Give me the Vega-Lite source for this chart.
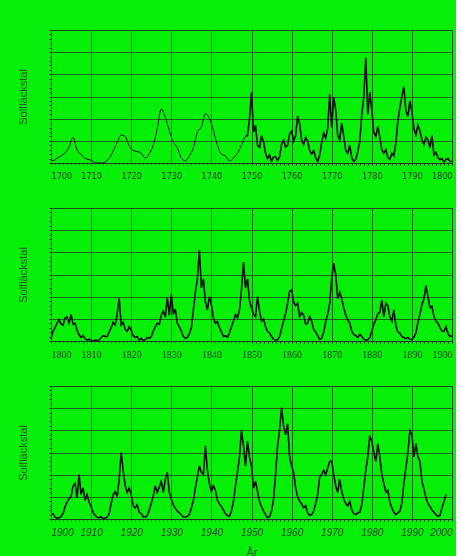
{
"$schema": "https://vega.github.io/schema/vega-lite/v6.json",
"background": "#06ef06",
"padding": {"left": 17, "top": 29, "right": 0, "bottom": 0},
"spacing": 45,
"bounds": "flush",
"config": {
"view": {"stroke": "#1a3f1a", "strokeWidth": 1},
"axis": {"gridColor": "#1d4d1d", "domainColor": "#1a3f1a", "tickColor": "#1a3f1a", "labelColor": "#2a4a2a", "titleColor": "#2f5a2f", "labelFont": "Liberation Sans", "titleFont": "Liberation Sans", "titleFontWeight": "normal", "titleFontSize": 11, "labelFontSize": 9, "tickSize": 2, "labelPadding": 6}
},
"datasets": {"sun": [
{"t":1700,"v":8},{"t":1700.5,"v":5},{"t":1701.5,"v":11},{"t":1702.5,"v":16},{"t":1703.5,"v":23},{"t":1704.5,"v":36},{"t":1705.5,"v":58},{"t":1706.5,"v":29},{"t":1707.5,"v":20},{"t":1708.5,"v":10},{"t":1709.5,"v":8},{"t":1710.5,"v":3},{"t":1711.5,"v":0},{"t":1712.5,"v":0},{"t":1713.5,"v":2},{"t":1714.5,"v":11},{"t":1715.5,"v":27},{"t":1716.5,"v":47},{"t":1717.5,"v":63},{"t":1718.5,"v":60},{"t":1719.5,"v":39},{"t":1720.5,"v":28},{"t":1721.5,"v":26},{"t":1722.5,"v":22},{"t":1723.5,"v":11},{"t":1724.5,"v":21},{"t":1725.5,"v":40},{"t":1726.5,"v":78},{"t":1727.5,"v":122},{"t":1728.5,"v":103},{"t":1729.5,"v":73},{"t":1730.5,"v":47},{"t":1731.5,"v":35},{"t":1732.5,"v":11},{"t":1733.5,"v":5},{"t":1734.5,"v":16},{"t":1735.5,"v":34},{"t":1736.5,"v":70},{"t":1737.5,"v":81},{"t":1738.5,"v":111},{"t":1739.5,"v":101},{"t":1740.5,"v":73},{"t":1741.5,"v":40},{"t":1742.5,"v":20},{"t":1743.5,"v":16},{"t":1744.5,"v":5},{"t":1745.5,"v":11},{"t":1746.5,"v":22},{"t":1747.5,"v":40},{"t":1748.5,"v":60},
{"t":1749,"v":62},{"t":1749.5,"v":100},{"t":1750,"v":160},{"t":1750.5,"v":70},{"t":1751,"v":85},{"t":1751.5,"v":40},{"t":1752,"v":35},{"t":1752.5,"v":62},{"t":1753,"v":48},{"t":1753.5,"v":22},{"t":1754,"v":10},{"t":1754.5,"v":18},{"t":1755,"v":4},{"t":1755.5,"v":14},{"t":1756,"v":14},{"t":1756.5,"v":6},{"t":1757,"v":14},{"t":1757.5,"v":42},{"t":1758,"v":52},{"t":1758.5,"v":36},{"t":1759,"v":40},{"t":1759.5,"v":66},{"t":1760,"v":72},{"t":1760.5,"v":50},{"t":1761,"v":62},{"t":1761.5,"v":106},{"t":1762,"v":88},{"t":1762.5,"v":52},{"t":1763,"v":42},{"t":1763.5,"v":58},{"t":1764,"v":50},{"t":1764.5,"v":28},{"t":1765,"v":20},{"t":1765.5,"v":28},{"t":1766,"v":12},{"t":1766.5,"v":3},{"t":1767,"v":18},{"t":1767.5,"v":46},{"t":1768,"v":68},{"t":1768.5,"v":56},{"t":1769,"v":78},{"t":1769.5,"v":155},{"t":1770,"v":80},{"t":1770.5,"v":148},{"t":1771,"v":120},{"t":1771.5,"v":62},{"t":1772,"v":52},{"t":1772.5,"v":90},{"t":1773,"v":60},{"t":1773.5,"v":28},{"t":1774,"v":22},{"t":1774.5,"v":40},{"t":1775,"v":12},{"t":1775.5,"v":3},{"t":1776,"v":8},{"t":1776.5,"v":26},{"t":1777,"v":48},{"t":1777.5,"v":110},{"t":1778,"v":150},{"t":1778.5,"v":238},{"t":1779,"v":110},{"t":1779.5,"v":160},{"t":1780,"v":120},{"t":1780.5,"v":70},{"t":1781,"v":60},{"t":1781.5,"v":82},{"t":1782,"v":58},{"t":1782.5,"v":30},{"t":1783,"v":22},{"t":1783.5,"v":30},{"t":1784,"v":12},{"t":1784.5,"v":8},{"t":1785,"v":22},{"t":1785.5,"v":16},{"t":1786,"v":45},{"t":1786.5,"v":95},{"t":1787,"v":125},{"t":1787.5,"v":150},{"t":1788,"v":172},{"t":1788.5,"v":118},{"t":1789,"v":105},{"t":1789.5,"v":140},{"t":1790,"v":115},{"t":1790.5,"v":78},{"t":1791,"v":64},{"t":1791.5,"v":85},{"t":1792,"v":72},{"t":1792.5,"v":52},{"t":1793,"v":42},{"t":1793.5,"v":58},{"t":1794,"v":52},{"t":1794.5,"v":34},{"t":1795,"v":62},{"t":1795.5,"v":18},{"t":1796,"v":24},{"t":1796.5,"v":12},{"t":1797,"v":8},{"t":1797.5,"v":10},{"t":1798,"v":2},{"t":1798.5,"v":8},{"t":1799,"v":10},{"t":1799.5,"v":3},
{"t":1800,"v":4},{"t":1800.5,"v":22},{"t":1801,"v":30},{"t":1801.5,"v":40},{"t":1802,"v":48},{"t":1802.5,"v":38},{"t":1803,"v":36},{"t":1803.5,"v":52},{"t":1804,"v":54},{"t":1804.5,"v":40},{"t":1805,"v":60},{"t":1805.5,"v":38},{"t":1806,"v":40},{"t":1806.5,"v":24},{"t":1807,"v":14},{"t":1807.5,"v":8},{"t":1808,"v":12},{"t":1808.5,"v":5},{"t":1809,"v":2},{"t":1809.5,"v":4},{"t":1810,"v":0},{"t":1810.5,"v":0},{"t":1811,"v":2},{"t":1811.5,"v":1},{"t":1812,"v":2},{"t":1812.5,"v":8},{"t":1813,"v":12},{"t":1813.5,"v":10},{"t":1814,"v":10},{"t":1814.5,"v":20},{"t":1815,"v":30},{"t":1815.5,"v":42},{"t":1816,"v":36},{"t":1816.5,"v":60},{"t":1817,"v":97},{"t":1817.5,"v":36},{"t":1818,"v":42},{"t":1818.5,"v":26},{"t":1819,"v":22},{"t":1819.5,"v":32},{"t":1820,"v":24},{"t":1820.5,"v":12},{"t":1821,"v":8},{"t":1821.5,"v":10},{"t":1822,"v":2},{"t":1822.5,"v":6},{"t":1823,"v":1},{"t":1823.5,"v":3},{"t":1824,"v":8},{"t":1824.5,"v":6},{"t":1825,"v":10},{"t":1825.5,"v":22},{"t":1826,"v":32},{"t":1826.5,"v":40},{"t":1827,"v":38},{"t":1827.5,"v":58},{"t":1828,"v":68},{"t":1828.5,"v":54},{"t":1829,"v":98},{"t":1829.5,"v":58},{"t":1830,"v":105},{"t":1830.5,"v":60},{"t":1831,"v":72},{"t":1831.5,"v":40},{"t":1832,"v":32},{"t":1832.5,"v":22},{"t":1833,"v":10},{"t":1833.5,"v":6},{"t":1834,"v":8},{"t":1834.5,"v":16},{"t":1835,"v":30},{"t":1835.5,"v":70},{"t":1836,"v":110},{"t":1836.5,"v":140},{"t":1837,"v":205},{"t":1837.5,"v":120},{"t":1838,"v":140},{"t":1838.5,"v":88},{"t":1839,"v":70},{"t":1839.5,"v":100},{"t":1840,"v":82},{"t":1840.5,"v":52},{"t":1841,"v":40},{"t":1841.5,"v":44},{"t":1842,"v":30},{"t":1842.5,"v":20},{"t":1843,"v":10},{"t":1843.5,"v":12},{"t":1844,"v":8},{"t":1844.5,"v":18},{"t":1845,"v":32},{"t":1845.5,"v":45},{"t":1846,"v":60},{"t":1846.5,"v":52},{"t":1847,"v":70},{"t":1847.5,"v":115},{"t":1848,"v":178},{"t":1848.5,"v":120},{"t":1849,"v":140},{"t":1849.5,"v":90},{"t":1850,"v":75},{"t":1850.5,"v":60},{"t":1851,"v":55},{"t":1851.5,"v":100},{"t":1852,"v":68},{"t":1852.5,"v":45},{"t":1853,"v":50},{"t":1853.5,"v":32},{"t":1854,"v":22},{"t":1854.5,"v":18},{"t":1855,"v":10},{"t":1855.5,"v":4},{"t":1856,"v":2},{"t":1856.5,"v":3},{"t":1857,"v":10},{"t":1857.5,"v":28},{"t":1858,"v":45},{"t":1858.5,"v":62},{"t":1859,"v":85},{"t":1859.5,"v":112},{"t":1860,"v":115},{"t":1860.5,"v":88},{"t":1861,"v":80},{"t":1861.5,"v":85},{"t":1862,"v":55},{"t":1862.5,"v":64},{"t":1863,"v":58},{"t":1863.5,"v":38},{"t":1864,"v":40},{"t":1864.5,"v":55},{"t":1865,"v":45},{"t":1865.5,"v":26},{"t":1866,"v":20},{"t":1866.5,"v":12},{"t":1867,"v":3},{"t":1867.5,"v":6},{"t":1868,"v":20},{"t":1868.5,"v":44},{"t":1869,"v":60},{"t":1869.5,"v":85},{"t":1870,"v":140},{"t":1870.5,"v":175},{"t":1871,"v":150},{"t":1871.5,"v":95},{"t":1872,"v":110},{"t":1872.5,"v":95},{"t":1873,"v":75},{"t":1873.5,"v":58},{"t":1874,"v":48},{"t":1874.5,"v":40},{"t":1875,"v":22},{"t":1875.5,"v":15},{"t":1876,"v":12},{"t":1876.5,"v":8},{"t":1877,"v":15},{"t":1877.5,"v":10},{"t":1878,"v":4},{"t":1878.5,"v":2},{"t":1879,"v":3},{"t":1879.5,"v":8},{"t":1880,"v":22},{"t":1880.5,"v":38},{"t":1881,"v":48},{"t":1881.5,"v":62},{"t":1882,"v":65},{"t":1882.5,"v":92},{"t":1883,"v":55},{"t":1883.5,"v":85},{"t":1884,"v":80},{"t":1884.5,"v":55},{"t":1885,"v":45},{"t":1885.5,"v":70},{"t":1886,"v":35},{"t":1886.5,"v":20},{"t":1887,"v":18},{"t":1887.5,"v":10},{"t":1888,"v":8},{"t":1888.5,"v":5},{"t":1889,"v":8},{"t":1889.5,"v":4},{"t":1890,"v":3},{"t":1890.5,"v":9},{"t":1891,"v":18},{"t":1891.5,"v":42},{"t":1892,"v":60},{"t":1892.5,"v":82},{"t":1893,"v":95},{"t":1893.5,"v":125},{"t":1894,"v":100},{"t":1894.5,"v":75},{"t":1895,"v":78},{"t":1895.5,"v":55},{"t":1896,"v":45},{"t":1896.5,"v":40},{"t":1897,"v":30},{"t":1897.5,"v":22},{"t":1898,"v":22},{"t":1898.5,"v":32},{"t":1899,"v":16},{"t":1899.5,"v":10},
{"t":1900,"v":12},{"t":1900.5,"v":12},{"t":1901,"v":4},{"t":1901.5,"v":2},{"t":1902,"v":3},{"t":1902.5,"v":6},{"t":1903,"v":12},{"t":1903.5,"v":28},{"t":1904,"v":38},{"t":1904.5,"v":46},{"t":1905,"v":50},{"t":1905.5,"v":75},{"t":1906,"v":80},{"t":1906.5,"v":48},{"t":1907,"v":100},{"t":1907.5,"v":55},{"t":1908,"v":70},{"t":1908.5,"v":42},{"t":1909,"v":55},{"t":1909.5,"v":38},{"t":1910,"v":28},{"t":1910.5,"v":15},{"t":1911,"v":8},{"t":1911.5,"v":4},{"t":1912,"v":3},{"t":1912.5,"v":5},{"t":1913,"v":1},{"t":1913.5,"v":2},{"t":1914,"v":4},{"t":1914.5,"v":12},{"t":1915,"v":35},{"t":1915.5,"v":55},{"t":1916,"v":62},{"t":1916.5,"v":50},{"t":1917,"v":90},{"t":1917.5,"v":150},{"t":1918,"v":110},{"t":1918.5,"v":75},{"t":1919,"v":60},{"t":1919.5,"v":70},{"t":1920,"v":55},{"t":1920.5,"v":30},{"t":1921,"v":25},{"t":1921.5,"v":32},{"t":1922,"v":15},{"t":1922.5,"v":12},{"t":1923,"v":5},{"t":1923.5,"v":4},{"t":1924,"v":8},{"t":1924.5,"v":20},{"t":1925,"v":35},{"t":1925.5,"v":52},{"t":1926,"v":75},{"t":1926.5,"v":60},{"t":1927,"v":72},{"t":1927.5,"v":85},{"t":1928,"v":60},{"t":1928.5,"v":90},{"t":1929,"v":105},{"t":1929.5,"v":60},{"t":1930,"v":45},{"t":1930.5,"v":32},{"t":1931,"v":24},{"t":1931.5,"v":18},{"t":1932,"v":14},{"t":1932.5,"v":9},{"t":1933,"v":5},{"t":1933.5,"v":4},{"t":1934,"v":6},{"t":1934.5,"v":10},{"t":1935,"v":25},{"t":1935.5,"v":42},{"t":1936,"v":70},{"t":1936.5,"v":95},{"t":1937,"v":120},{"t":1937.5,"v":105},{"t":1938,"v":100},{"t":1938.5,"v":165},{"t":1939,"v":110},{"t":1939.5,"v":80},{"t":1940,"v":62},{"t":1940.5,"v":75},{"t":1941,"v":65},{"t":1941.5,"v":42},{"t":1942,"v":34},{"t":1942.5,"v":28},{"t":1943,"v":20},{"t":1943.5,"v":12},{"t":1944,"v":8},{"t":1944.5,"v":6},{"t":1945,"v":18},{"t":1945.5,"v":40},{"t":1946,"v":75},{"t":1946.5,"v":105},{"t":1947,"v":140},{"t":1947.5,"v":200},{"t":1948,"v":165},{"t":1948.5,"v":120},{"t":1949,"v":175},{"t":1949.5,"v":140},{"t":1950,"v":120},{"t":1950.5,"v":70},{"t":1951,"v":85},{"t":1951.5,"v":62},{"t":1952,"v":40},{"t":1952.5,"v":28},{"t":1953,"v":18},{"t":1953.5,"v":10},{"t":1954,"v":3},{"t":1954.5,"v":5},{"t":1955,"v":18},{"t":1955.5,"v":45},{"t":1956,"v":100},{"t":1956.5,"v":165},{"t":1957,"v":200},{"t":1957.5,"v":252},{"t":1958,"v":210},{"t":1958.5,"v":190},{"t":1959,"v":215},{"t":1959.5,"v":140},{"t":1960,"v":120},{"t":1960.5,"v":105},{"t":1961,"v":70},{"t":1961.5,"v":50},{"t":1962,"v":40},{"t":1962.5,"v":34},{"t":1963,"v":25},{"t":1963.5,"v":30},{"t":1964,"v":14},{"t":1964.5,"v":8},{"t":1965,"v":10},{"t":1965.5,"v":18},{"t":1966,"v":35},{"t":1966.5,"v":55},{"t":1967,"v":95},{"t":1967.5,"v":100},{"t":1968,"v":110},{"t":1968.5,"v":100},{"t":1969,"v":115},{"t":1969.5,"v":130},{"t":1970,"v":130},{"t":1970.5,"v":100},{"t":1971,"v":75},{"t":1971.5,"v":60},{"t":1972,"v":90},{"t":1972.5,"v":62},{"t":1973,"v":45},{"t":1973.5,"v":35},{"t":1974,"v":30},{"t":1974.5,"v":40},{"t":1975,"v":20},{"t":1975.5,"v":12},{"t":1976,"v":10},{"t":1976.5,"v":14},{"t":1977,"v":15},{"t":1977.5,"v":32},{"t":1978,"v":70},{"t":1978.5,"v":110},{"t":1979,"v":140},{"t":1979.5,"v":188},{"t":1980,"v":175},{"t":1980.5,"v":150},{"t":1981,"v":130},{"t":1981.5,"v":170},{"t":1982,"v":140},{"t":1982.5,"v":100},{"t":1983,"v":80},{"t":1983.5,"v":60},{"t":1984,"v":65},{"t":1984.5,"v":38},{"t":1985,"v":25},{"t":1985.5,"v":15},{"t":1986,"v":10},{"t":1986.5,"v":14},{"t":1987,"v":18},{"t":1987.5,"v":35},{"t":1988,"v":80},{"t":1988.5,"v":115},{"t":1989,"v":150},{"t":1989.5,"v":200},{"t":1990,"v":190},{"t":1990.5,"v":140},{"t":1991,"v":170},{"t":1991.5,"v":140},{"t":1992,"v":130},{"t":1992.5,"v":85},{"t":1993,"v":68},{"t":1993.5,"v":48},{"t":1994,"v":35},{"t":1994.5,"v":28},{"t":1995,"v":20},{"t":1995.5,"v":15},{"t":1996,"v":10},{"t":1996.5,"v":6},{"t":1997,"v":8},{"t":1997.5,"v":25},{"t":1998,"v":40},{"t":1998.5,"v":55}
]},
"vconcat": [
{
"width": 401, "height": 133,
"data": {"name": "sun"},
"encoding": {
"x": {"field": "t", "type": "quantitative", "scale": {"domain": [1700, 1800], "nice": false, "zero": false},
"axis": {"title": null, "tickCount": 100, "format": "d", "labelOverlap": false, "labelExpr": "datum.value % 10 === 0 ? datum.label : ''", "gridOpacity": {"condition": {"test": "datum.value % 10 === 0", "value": 0.85}, "value": 0}, "labelFont": "DejaVu Sans Condensed", "labelFontSize": 9}},
"y": {"field": "v", "type": "quantitative", "scale": {"domain": [0, 300], "nice": false},
"axis": {"title": "Solfläckstal", "labels": false, "tickCount": 30, "gridOpacity": {"condition": {"test": "datum.value % 50 === 0", "value": 0.85}, "value": 0}, "titlePadding": 20}}
},
"layer": [
{"transform": [{"filter": {"field": "t", "range": [1700, 1749]}}],
"mark": {"type": "line", "color": "#0a1a0a", "strokeWidth": 1, "interpolate": "monotone"}},
{"transform": [{"filter": {"field": "t", "range": [1748.5, 1800]}}],
"mark": {"type": "line", "color": "#061006", "strokeWidth": 1.6}}
]
},
{
"width": 401, "height": 133,
"data": {"name": "sun"},
"transform": [{"filter": {"field": "t", "range": [1800, 1900]}}],
"mark": {"type": "line", "color": "#061006", "strokeWidth": 1.6},
"encoding": {
"x": {"field": "t", "type": "quantitative", "scale": {"domain": [1800, 1900], "nice": false, "zero": false},
"axis": {"title": null, "tickCount": 100, "format": "d", "labelOverlap": false, "labelExpr": "datum.value % 10 === 0 ? datum.label : ''", "gridOpacity": {"condition": {"test": "datum.value % 10 === 0", "value": 0.85}, "value": 0}, "labelFont": "Liberation Serif", "labelFontSize": 10}},
"y": {"field": "v", "type": "quantitative", "scale": {"domain": [0, 300], "nice": false},
"axis": {"title": "Solfläckstal", "labels": false, "tickCount": 30, "gridOpacity": {"condition": {"test": "datum.value % 50 === 0", "value": 0.85}, "value": 0}, "titlePadding": 20}}
}
},
{
"width": 401, "height": 133,
"data": {"name": "sun"},
"transform": [{"filter": {"field": "t", "range": [1900, 2000]}}],
"mark": {"type": "line", "color": "#061006", "strokeWidth": 1.6},
"encoding": {
"x": {"field": "t", "type": "quantitative", "scale": {"domain": [1900, 2000], "nice": false, "zero": false},
"axis": {"title": "År", "titlePadding": 9, "tickCount": 100, "format": "d", "labelOverlap": false, "labelExpr": "datum.value % 10 === 0 ? datum.label : ''", "gridOpacity": {"condition": {"test": "datum.value % 10 === 0", "value": 0.85}, "value": 0}, "labelFont": "Liberation Sans", "labelFontStyle": "italic", "labelFontSize": 10}},
"y": {"field": "v", "type": "quantitative", "scale": {"domain": [0, 300], "nice": false},
"axis": {"title": "Solfläckstal", "labels": false, "tickCount": 30, "gridOpacity": {"condition": {"test": "datum.value % 50 === 0", "value": 0.85}, "value": 0}, "titlePadding": 20}}
}
}
]
}
